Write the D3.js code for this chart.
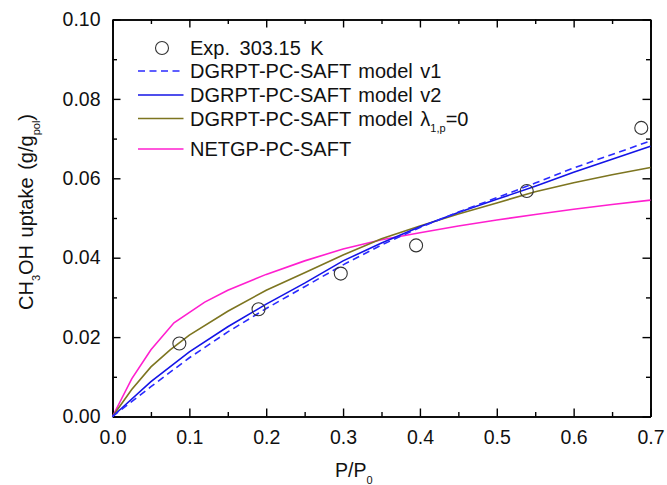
<!DOCTYPE html>
<html>
<head>
<meta charset="utf-8">
<script src="https://cdn.jsdelivr.net/npm/d3@7"></script>
<style>
  body { margin: 0; background: #fff; }
  svg { font-family: "Liberation Sans", Arial, sans-serif; }
</style>
</head>
<body>
<div class="chart"></div>
<script>
// experimental points
const expP = [0.087, 0.19, 0.297, 0.395, 0.539, 0.688];
const expU = [0.0184, 0.0270, 0.0360, 0.0431, 0.0568, 0.0727];

// model curves
const v1P = [0, 0.05, 0.1, 0.15, 0.2, 0.25, 0.3, 0.35, 0.4, 0.45, 0.5, 0.55, 0.6, 0.65, 0.7];
const v1U = [0, 0.0075, 0.0148, 0.0213, 0.0272, 0.0327, 0.0382, 0.0432, 0.0476, 0.0515, 0.0551, 0.0588, 0.0626, 0.0660, 0.0694];

const v2P = [0, 0.05, 0.1, 0.15, 0.2, 0.25, 0.3, 0.35, 0.4, 0.45, 0.5, 0.55, 0.6, 0.65, 0.7];
const v2U = [0, 0.0088, 0.0163, 0.0226, 0.0283, 0.0336, 0.0392, 0.0437, 0.0478, 0.0514, 0.0547, 0.0580, 0.0615, 0.0648, 0.0681];

const lamP = [0, 0.025, 0.05, 0.075, 0.1, 0.15, 0.2, 0.25, 0.3, 0.35, 0.4, 0.45, 0.5, 0.55, 0.6, 0.65, 0.7];
const lamU = [0, 0.0068, 0.0125, 0.0168, 0.0205, 0.0265, 0.0318, 0.0362, 0.0407, 0.0448, 0.0480, 0.0510, 0.0538, 0.0566, 0.0589, 0.0609, 0.0627];

const netP = [0, 0.025, 0.05, 0.08, 0.12, 0.15, 0.2, 0.25, 0.3, 0.35, 0.4, 0.45, 0.5, 0.55, 0.6, 0.65, 0.7];
const netU = [0, 0.0095, 0.0168, 0.0236, 0.0288, 0.0318, 0.0358, 0.0392, 0.0422, 0.0445, 0.0463, 0.0480, 0.0495, 0.0509, 0.0522, 0.0534, 0.0545];

const xTicks = [0, 0.1, 0.2, 0.3, 0.4, 0.5, 0.6, 0.7];
const yTicks = [0, 0.02, 0.04, 0.06, 0.08, 0.10];

const width = 667, height = 485;
const mLeft = 112.5, mRight = 650.5, mTop = 19.5, mBottom = 416.5;

const svg = d3.select(".chart").append("svg")
    .attr("width", width)
    .attr("height", height)
    .attr("viewBox", [0, 0, width, height]);

const x = d3.scaleLinear().domain([0, 0.7]).range([mLeft, mRight]);
const y = d3.scaleLinear().domain([0, 0.10]).range([mBottom, mTop]);

const xMinor = d3.range(0.05, 0.7, 0.1);
const yMinor = d3.range(0.01, 0.1, 0.02);

/* axes: labelled bottom/left, bare top/right, all ticks inward */
svg.append("g").attr("transform", `translate(0,${mBottom})`)
    .call(d3.axisBottom(x).tickValues(xTicks).tickFormat(d3.format(".1f")).tickSizeInner(-8).tickSizeOuter(0).tickPadding(14));
svg.append("g").attr("transform", `translate(0,${mBottom})`)
    .call(d3.axisBottom(x).tickValues(xMinor).tickFormat("").tickSizeInner(-4.5).tickSizeOuter(0));
svg.append("g").attr("transform", `translate(0,${mTop})`)
    .call(d3.axisTop(x).tickValues(xTicks).tickFormat("").tickSizeInner(-8).tickSizeOuter(0));
svg.append("g").attr("transform", `translate(0,${mTop})`)
    .call(d3.axisTop(x).tickValues(xMinor).tickFormat("").tickSizeInner(-4.5).tickSizeOuter(0));

svg.append("g").attr("transform", `translate(${mLeft},0)`)
    .call(d3.axisLeft(y).tickValues(yTicks).tickFormat(d3.format(".2f")).tickSizeInner(-8).tickSizeOuter(0).tickPadding(12));
svg.append("g").attr("transform", `translate(${mLeft},0)`)
    .call(d3.axisLeft(y).tickValues(yMinor).tickFormat("").tickSizeInner(-4.5).tickSizeOuter(0));
svg.append("g").attr("transform", `translate(${mRight},0)`)
    .call(d3.axisRight(y).tickValues(yTicks).tickFormat("").tickSizeInner(-8).tickSizeOuter(0));
svg.append("g").attr("transform", `translate(${mRight},0)`)
    .call(d3.axisRight(y).tickValues(yMinor).tickFormat("").tickSizeInner(-4.5).tickSizeOuter(0));

svg.selectAll(".domain").attr("stroke", "#000").attr("stroke-width", 1.6);
svg.selectAll(".tick line").attr("stroke", "#000").attr("stroke-width", 1.4);
svg.selectAll(".tick text")
    .attr("font-family", "Liberation Sans, Arial, sans-serif")
    .attr("font-size", 19.5)
    .attr("fill", "#111");

/* curves */
const line = d3.line().x(d => x(d[0])).y(d => y(d[1]));
const series = [
    {P: netP, U: netU, color: "#ff1fcf", dash: null},
    {P: lamP, U: lamU, color: "#7d7520", dash: null},
    {P: v2P, U: v2U, color: "#1414e6", dash: null},
    {P: v1P, U: v1U, color: "#2a2aff", dash: "7,4.5"}
];
svg.append("g").selectAll("path")
    .data(series)
    .join("path")
    .attr("d", s => line(s.P.map((p, i) => [p, s.U[i]])))
    .attr("fill", "none")
    .attr("stroke", s => s.color)
    .attr("stroke-width", 1.6)
    .attr("stroke-dasharray", s => s.dash);

svg.append("g").selectAll("circle")
    .data(expP.map((p, i) => [p, expU[i]]))
    .join("circle")
    .attr("cx", d => x(d[0]))
    .attr("cy", d => y(d[1]))
    .attr("r", 6.5)
    .attr("fill", "none")
    .attr("stroke", "#333")
    .attr("stroke-width", 1.1);

/* legend */
const lg = svg.append("g").attr("font-size", 20).attr("fill", "#111").attr("word-spacing", 2);
lg.append("circle").attr("cx", 162).attr("cy", 48).attr("r", 6.5)
    .attr("fill", "none").attr("stroke", "#333").attr("stroke-width", 1.1);
lg.append("text").attr("x", 190).attr("y", 55).attr("word-spacing", 4).text("Exp. 303.15 K");

const legRows = [
    {y: 71, s: series[3], label: "DGRPT-PC-SAFT model v1"},
    {y: 95, s: series[2], label: "DGRPT-PC-SAFT model v2"},
    {y: 118.5, s: series[1], label: null},
    {y: 149, s: series[0], label: "NETGP-PC-SAFT"}
];
legRows.forEach(r => {
    lg.append("line").attr("x1", 138).attr("x2", 183.5).attr("y1", r.y).attr("y2", r.y)
        .attr("stroke", r.s.color).attr("stroke-width", 1.6)
        .attr("stroke-dasharray", r.s.dash);
    const t = lg.append("text").attr("x", 190).attr("y", r.y + 7);
    if (r.label) t.text(r.label);
    else {
        t.append("tspan").text("DGRPT-PC-SAFT model \u03bb");
        t.append("tspan").attr("font-size", 11).attr("dy", 6).text("1,p");
        t.append("tspan").attr("dy", -6).text("=0");
    }
});

/* axis titles */
const xt = svg.append("text").attr("x", 335).attr("y", 477)
    .attr("font-size", 19.5).attr("fill", "#111");
xt.append("tspan").text("P/P");
xt.append("tspan").attr("font-size", 11).attr("dy", 7).text("0");

const yt = svg.append("text")
    .attr("transform", "translate(33,212) rotate(-90)")
    .attr("text-anchor", "middle")
    .attr("word-spacing", 2)
    .attr("font-size", 20).attr("fill", "#111");
yt.append("tspan").text("CH");
yt.append("tspan").attr("font-size", 11).attr("dy", 7).text("3");
yt.append("tspan").attr("dy", -7).text("OH uptake (g/g");
yt.append("tspan").attr("font-size", 11).attr("dy", 7).text("pol");
yt.append("tspan").attr("dy", -7).text(")");
</script>
</body>
</html>
